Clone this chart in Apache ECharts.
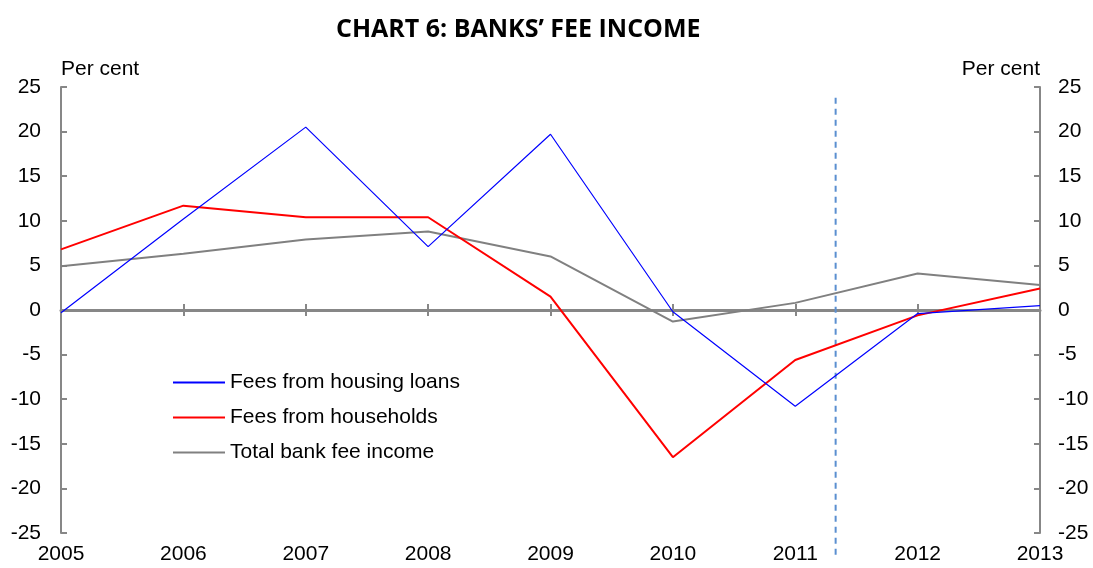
<!DOCTYPE html>
<html>
<head>
<meta charset="utf-8">
<script src="https://cdn.jsdelivr.net/npm/echarts@6/dist/echarts.min.js"></script>
<style>
  html, body { margin: 0; padding: 0; background: #ffffff; }
  #chart { width: 1093px; height: 568px; }
</style>
</head>
<body>
<div id="chart"></div>
<script>
// Annual growth in bank fee income, per cent
const years = [2005, 2006, 2007, 2008, 2009, 2010, 2011, 2012, 2013];
const housingLoans = [-0.3, 10.2, 20.5, 7.1, 19.7, -0.2, -10.8, -0.4, 0.5];
const households = [6.8, 11.7, 10.4, 10.4, 1.5, -16.5, -5.6, -0.6, 2.4];
const totalFees = [4.9, 6.3, 7.9, 8.8, 6.0, -1.3, 0.8, 4.1, 2.8];

// Vertical divider (position on the year scale, top and bottom values)
const dividerX = 2011.33;
const dividerY = [23.8, -27.5];

const seriesNames = ['Fees from housing loans', 'Fees from households', 'Total bank fee income'];
const yTicks = { min: -25, max: 25, interval: 5 };

const axisGrey = '#878787';
const textFont = 'Liberation Sans, Arial, sans-serif';
const textSize = 21;

const pairs = vals => years.map((y, i) => [y, vals[i]]);

const chart = echarts.init(document.getElementById('chart'), null, { renderer: 'canvas' });

const yAxisBase = {
  type: 'value',
  min: yTicks.min,
  max: yTicks.max,
  interval: yTicks.interval,
  splitLine: { show: false },
  axisLine: { show: true, lineStyle: { color: axisGrey, width: 2 } },
  axisTick: { show: true, inside: true, length: 6, lineStyle: { color: axisGrey, width: 2 } },
  axisLabel: { color: '#000', fontSize: textSize, fontFamily: textFont, margin: 20 },
  name: 'Per cent',
  nameGap: 7,
  nameTextStyle: { color: '#000', fontSize: textSize, fontFamily: textFont }
};

const xAxisBase = {
  type: 'value',
  min: 2005,
  max: 2013,
  interval: 1,
  splitLine: { show: false }
};

const lineSeries = (name, values, color, width, z) => ({
  name,
  type: 'line',
  data: pairs(values),
  showSymbol: false,
  symbol: 'none',
  color,
  lineStyle: { color, width },
  z
});

chart.setOption({
  animation: false,
  backgroundColor: '#ffffff',
  title: {
    text: 'CHART 6: BANKS’ FEE INCOME',
    left: 331,
    top: 12,
    textStyle: { fontSize: 25, fontWeight: 'bold', color: '#000', fontFamily: 'Open Sans, sans-serif' }
  },
  grid: { left: 61, right: 53, top: 87, bottom: 35 },
  legend: {
    orient: 'vertical',
    left: 173,
    top: 372,
    padding: 0,
    icon: 'rect',
    itemWidth: 52,
    itemHeight: 2,
    itemGap: 14,
    data: seriesNames,
    textStyle: { color: '#000', fontSize: textSize, fontFamily: textFont, lineHeight: 21 }
  },
  xAxis: [
    {
      // zero line with ticks below it
      ...xAxisBase,
      axisLine: { show: true, onZero: true, lineStyle: { color: axisGrey, width: 3 } },
      axisTick: { show: true, inside: false, length: 6, lineStyle: { color: axisGrey, width: 2 } },
      axisLabel: { show: false }
    },
    {
      // ticks above the zero line
      ...xAxisBase,
      position: 'bottom',
      axisLine: { show: false, onZero: true },
      axisTick: { show: true, inside: true, length: 6, lineStyle: { color: axisGrey, width: 2 } },
      axisLabel: { show: false }
    },
    {
      // year labels along the bottom edge
      ...xAxisBase,
      position: 'bottom',
      axisLine: { show: false, onZero: false },
      axisTick: { show: false },
      axisLabel: { color: '#000', fontSize: textSize, fontFamily: textFont, margin: 11, formatter: v => String(v) }
    }
  ],
  yAxis: [
    {
      ...yAxisBase,
      position: 'left',
      nameTextStyle: { ...yAxisBase.nameTextStyle, align: 'left' }
    },
    {
      ...yAxisBase,
      position: 'right',
      axisLabel: { ...yAxisBase.axisLabel, margin: 18 },
      nameTextStyle: { ...yAxisBase.nameTextStyle, align: 'right' }
    }
  ],
  series: [
    lineSeries(seriesNames[0], housingLoans, '#0000ff', 1.2, 4),
    lineSeries(seriesNames[1], households, '#ff0000', 2, 3),
    lineSeries(seriesNames[2], totalFees, '#808080', 2, 2),
    {
      name: 'divider',
      type: 'line',
      data: dividerY.map(v => [dividerX, v]),
      showSymbol: false,
      symbol: 'none',
      clip: false,
      silent: true,
      lineStyle: { color: '#5b8fd0', width: 2, type: [6, 5] },
      z: 1
    }
  ]
});
</script>
</body>
</html>
